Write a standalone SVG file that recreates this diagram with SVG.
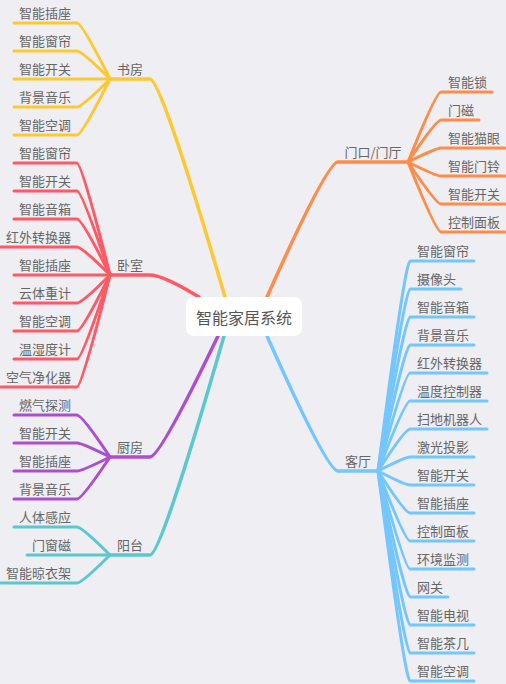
<svg xmlns="http://www.w3.org/2000/svg" width="506" height="684" viewBox="0 0 506 684">
<style>
.bg{fill:#EEEEF3}
.c path{fill:none;stroke-linecap:round;stroke-linejoin:round}
.m{stroke-width:3.5}
.l{stroke-width:3}
.y{stroke:#FFC832}.r{stroke:#FF5A64}.p{stroke:#AD4ECF}.t{stroke:#5BC7CF}.o{stroke:#FF8C4A}.b{stroke:#74C6FF}
text{font-family:"Noto Sans CJK SC","Noto Sans",sans-serif;font-size:13px;fill:#666}
.e{text-anchor:end}.s{text-anchor:start}.mid{text-anchor:middle}
.root text{font-size:16px;fill:#555;text-anchor:middle}
</style>
<rect class="bg" x="0" y="0" width="506" height="684"/>
<g id="connectors" class="c">
<path class="m y" d="M110 79H150Q161 79 225 297"/>
<path class="m r" d="M110 275H150Q163 275 199 297"/>
<path class="m p" d="M110 457H150Q160 457 218 336"/>
<path class="m t" d="M110 555H150Q161 555 224 336"/>
<path class="m o" d="M408 162H338Q327 162 267 297"/>
<path class="m b" d="M378 471H338Q327 471 267 336"/>
<g class="y l">
<path d="M14 23H77Q82 23 110 79"/><path d="M14 51H77Q82 51 110 79"/><path d="M14 79H110"/><path d="M14 107H77Q82 107 110 79"/><path d="M14 135H77Q82 135 110 79"/>
</g>
<g class="r l">
<path d="M14 163H77Q82 163 110 275"/><path d="M14 191H77Q82 191 110 275"/><path d="M14 219H77Q82 219 110 275"/><path d="M1 247H77Q82 247 110 275"/><path d="M14 275H110"/><path d="M14 303H77Q82 303 110 275"/><path d="M14 331H77Q82 331 110 275"/><path d="M14 359H77Q82 359 110 275"/><path d="M1 387H77Q82 387 110 275"/>
</g>
<g class="p l">
<path d="M14 415H77Q82 415 110 457"/><path d="M14 443H77Q82 443 110 457"/><path d="M14 471H77Q82 471 110 457"/><path d="M14 499H77Q82 499 110 457"/>
</g>
<g class="t l">
<path d="M14 527H77Q82 527 110 555"/><path d="M27 555H110"/><path d="M1 583H77Q82 583 110 555"/>
</g>
<g class="o l">
<path d="M408 162Q436 92 441 92H492"/><path d="M408 162Q436 120 441 120H479"/><path d="M408 162Q436 148 441 148H505"/><path d="M408 162Q436 176 441 176H505"/><path d="M408 162Q436 204 441 204H505"/><path d="M408 162Q436 232 441 232H505"/>
</g>
<g class="b l">
<path d="M378 471Q405 261 410 261H474"/><path d="M378 471Q405 289 410 289H461"/><path d="M378 471Q405 317 410 317H474"/><path d="M378 471Q405 345 410 345H474"/><path d="M378 471Q405 373 410 373H487"/><path d="M378 471Q405 401 410 401H487"/><path d="M378 471Q405 429 410 429H487"/><path d="M378 471Q405 457 410 457H474"/><path d="M378 471Q405 485 410 485H474"/><path d="M378 471Q405 513 410 513H474"/><path d="M378 471Q405 541 410 541H474"/><path d="M378 471Q405 569 410 569H474"/><path d="M378 471Q405 597 410 597H448"/><path d="M378 471Q405 625 410 625H474"/><path d="M378 471Q405 653 410 653H474"/><path d="M378 471Q405 681 410 681H474"/>
</g>
</g>
<g id="root" class="root">
<rect x="186" y="297" width="116" height="39" rx="8" fill="#FFFFFF"/>
<text x="244" y="324">智能家居系统</text>
</g>
<g id="shufang"><text class="mid" x="130" y="74">书房</text></g>
<g id="shufang-leaves">
<text class="e" x="71" y="18">智能插座</text><text class="e" x="71" y="46">智能窗帘</text><text class="e" x="71" y="74">智能开关</text><text class="e" x="71" y="102">背景音乐</text><text class="e" x="71" y="130">智能空调</text>
</g>
<g id="woshi"><text class="mid" x="130" y="270">卧室</text></g>
<g id="woshi-leaves">
<text class="e" x="71" y="158">智能窗帘</text><text class="e" x="71" y="186">智能开关</text><text class="e" x="71" y="214">智能音箱</text><text class="e" x="71" y="242">红外转换器</text><text class="e" x="71" y="270">智能插座</text><text class="e" x="71" y="298">云体重计</text><text class="e" x="71" y="326">智能空调</text><text class="e" x="71" y="354">温湿度计</text><text class="e" x="71" y="382">空气净化器</text>
</g>
<g id="chufang"><text class="mid" x="130" y="452">厨房</text></g>
<g id="chufang-leaves">
<text class="e" x="71" y="410">燃气探测</text><text class="e" x="71" y="438">智能开关</text><text class="e" x="71" y="466">智能插座</text><text class="e" x="71" y="494">背景音乐</text>
</g>
<g id="yangtai"><text class="mid" x="130" y="550">阳台</text></g>
<g id="yangtai-leaves">
<text class="e" x="71" y="522">人体感应</text><text class="e" x="71" y="550">门窗磁</text><text class="e" x="71" y="578">智能晾衣架</text>
</g>
<g id="menkou"><text class="mid" x="373" y="157">门口/门厅</text></g>
<g id="menkou-leaves">
<text class="s" x="448" y="87">智能锁</text><text class="s" x="448" y="115">门磁</text><text class="s" x="448" y="143">智能猫眼</text><text class="s" x="448" y="171">智能门铃</text><text class="s" x="448" y="199">智能开关</text><text class="s" x="448" y="227">控制面板</text>
</g>
<g id="keting"><text class="mid" x="358" y="466">客厅</text></g>
<g id="keting-leaves">
<text class="s" x="417" y="256">智能窗帘</text><text class="s" x="417" y="284">摄像头</text><text class="s" x="417" y="312">智能音箱</text><text class="s" x="417" y="340">背景音乐</text><text class="s" x="417" y="368">红外转换器</text><text class="s" x="417" y="396">温度控制器</text><text class="s" x="417" y="424">扫地机器人</text><text class="s" x="417" y="452">激光投影</text><text class="s" x="417" y="480">智能开关</text><text class="s" x="417" y="508">智能插座</text><text class="s" x="417" y="536">控制面板</text><text class="s" x="417" y="564">环境监测</text><text class="s" x="417" y="592">网关</text><text class="s" x="417" y="620">智能电视</text><text class="s" x="417" y="648">智能茶几</text><text class="s" x="417" y="676">智能空调</text>
</g>
</svg>
